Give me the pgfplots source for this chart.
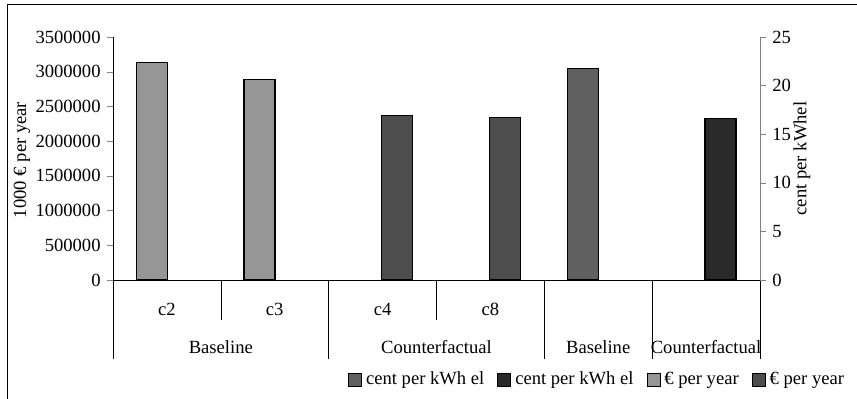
\documentclass[border=0pt]{standalone}
\usepackage{fontspec}
\setmainfont{Liberation Serif}
\usepackage{pgfplots}
\pgfplotsset{compat=1.18}
\definecolor{cA}{HTML}{606060}
\definecolor{cB}{HTML}{2A2A2A}
\definecolor{cC}{HTML}{969696}
\definecolor{cD}{HTML}{4D4D4D}
\newcommand{\fs}{\fontsize{18.6bp}{22bp}\selectfont}
\begin{document}
\fs
\begin{tikzpicture}
\path[use as bounding box] (0,0) rectangle (857bp,399bp);
\draw[line width=1bp] (7bp,0) -- (7bp,394bp) -- (857bp,394bp);
\pgfplotsset{
  common/.style={
    scale only axis, width=647bp, height=243bp,
    at={(113bp,119bp)}, anchor=south west,
    xmin=-0.5, xmax=5.5, ymin=0,
    xtick=\empty,
    tick align=outside, major tick length=6bp,
    axis line style={-},
    /pgf/number format/assume math mode=true,
    ticklabel style={font=\fs},
    clip=false,
  },
  legend image code/.code={\draw[#1,line width=0.9bp] (0bp,-6.5bp) rectangle (13bp,6.5bp);},
}
\begin{axis}[common, ymax=3500000, ytick={0,500000,...,3500000},
  axis y line*=left, axis x line*=bottom, scaled y ticks=false,
  yticklabel style={/pgf/number format/fixed,/pgf/number format/1000 sep={}},
  legend style={draw=none, fill=none, at={(axis description cs:0.3632,-0.41)}, anchor=west,
    font=\fs, inner sep=0pt,
    nodes={inner sep=2bp},
    /tikz/every odd column/.append style={column sep=2bp},
    /tikz/every even column/.append style={column sep=11bp}},
  legend columns=4,
  legend cell align=left,
  ]
\addplot[ybar, bar shift=0pt, bar width=0.2875, fill=cC, draw=black, line width=1.4bp, forget plot]
  coordinates {(-0.14,3130000) (0.86,2890000)};
\addplot[ybar, bar shift=0pt, bar width=0.2875, fill=cD, draw=black, line width=1.4bp, forget plot]
  coordinates {(2.135,2367000) (3.135,2338000)};
\addlegendimage{fill=cA, draw=black}\addlegendentry{cent per kWh el}
\addlegendimage{fill=cB, draw=black}\addlegendentry{cent per kWh el}
\addlegendimage{fill=cC, draw=black}\addlegendentry{€ per year}
\addlegendimage{fill=cD, draw=black}\addlegendentry{€ per year}
\pgfplotsinvokeforeach{-0.5,1.5,3.5,4.5,5.5}{\draw[black] (axis cs:#1,0) -- ++(0bp,-79bp);}
\pgfplotsinvokeforeach{0.5,2.5}{\draw[black] (axis cs:#1,0) -- ++(0bp,-40bp);}
\node at (axis cs:0,0) [yshift=-29bp] {c2};
\node at (axis cs:1,0) [yshift=-29bp] {c3};
\node at (axis cs:2,0) [yshift=-29bp] {c4};
\node at (axis cs:3,0) [yshift=-29bp] {c8};
\node at (axis cs:0.5,0) [yshift=-67bp] {Baseline};
\node at (axis cs:2.5,0) [yshift=-67bp] {Counterfactual};
\node at (axis cs:4,0) [yshift=-67bp] {Baseline};
\node at (axis cs:5,0) [yshift=-67bp] {Counterfactual};
\node[rotate=90, anchor=center, inner sep=0pt] at (axis description cs:-0.1406,0.494) {1000 € per year};
\node[rotate=90, anchor=center, inner sep=0pt] at (axis description cs:1.0649,0.5) {cent per kWhel};
\end{axis}
\begin{axis}[common, ymax=25, ytick={0,5,...,25},
  axis y line*=right, axis x line=none,
  y axis line style={gray},
  ]
\addplot[ybar, bar shift=0pt, bar width=0.2875, fill=cA, draw=black, line width=1.4bp]
  coordinates {(3.86,21.74)};
\addplot[ybar, bar shift=0pt, bar width=0.2875, fill=cB, draw=black, line width=1.4bp]
  coordinates {(5.135,16.6)};
\end{axis}
\end{tikzpicture}
\end{document}
